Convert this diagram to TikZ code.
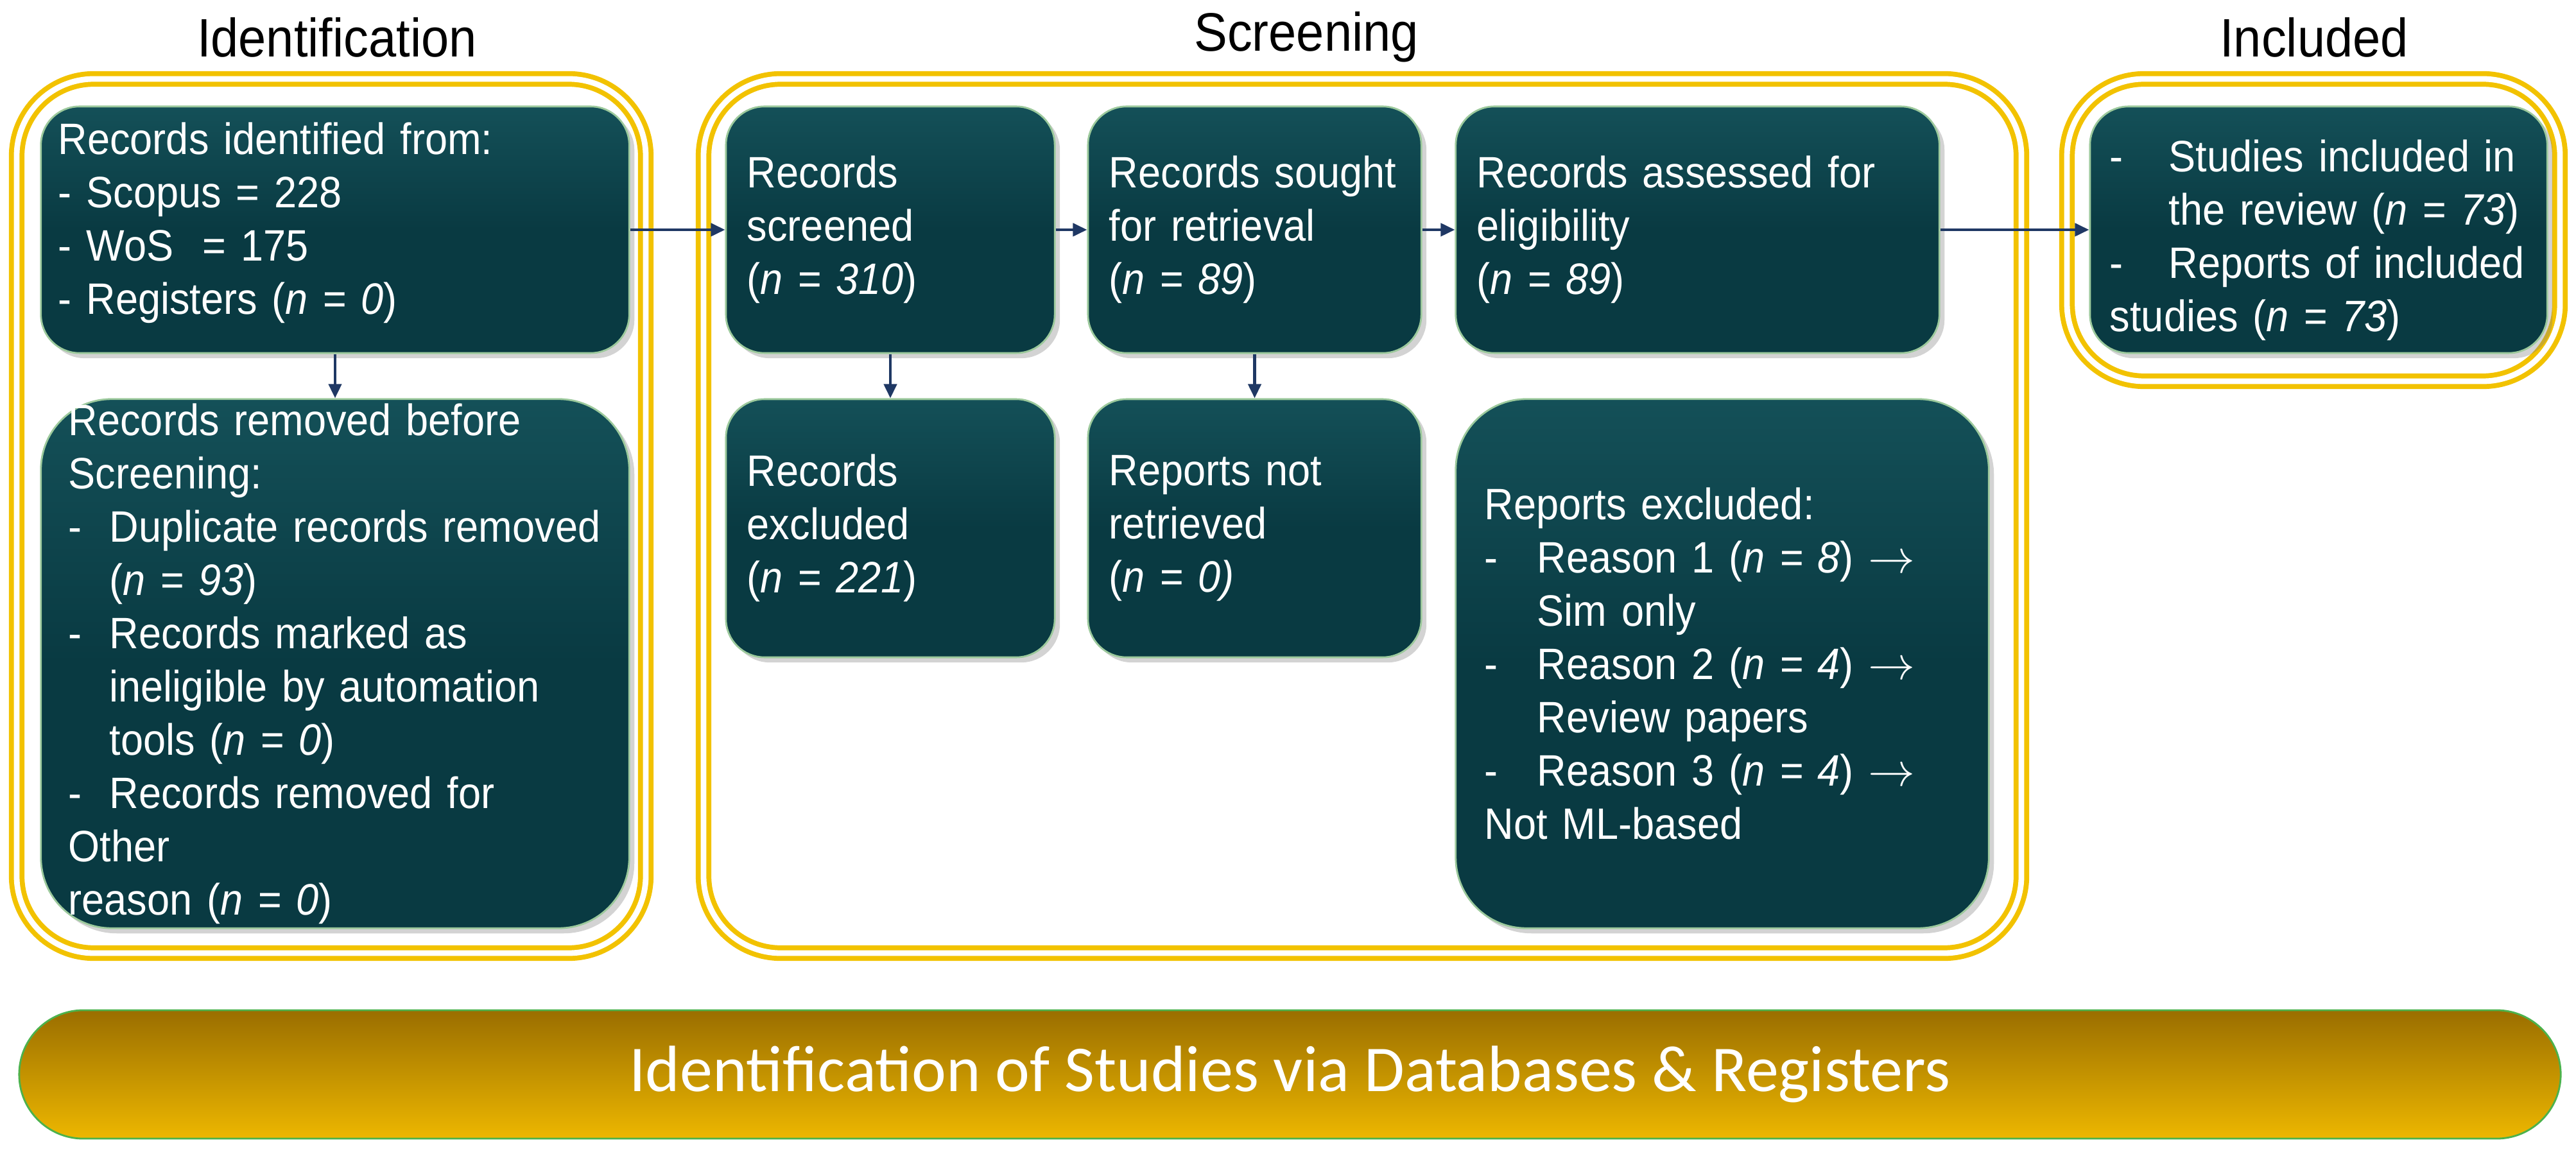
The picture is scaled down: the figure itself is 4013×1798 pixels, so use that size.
\documentclass[tikz,border=0pt]{standalone}
\usepackage{fontspec}
\setmainfont{Liberation Sans}[FakeStretch=0.92]
\newfontfamily\bannerfont{Carlito}
\usetikzlibrary{arrows.meta,shadows}
\hyphenpenalty=10000
\exhyphenpenalty=10000
\definecolor{boxc}{HTML}{093A42}
\definecolor{boxt}{HTML}{145058}
\definecolor{gold}{HTML}{F2C200}
\definecolor{navy}{HTML}{1F3864}
\definecolor{bandtop}{HTML}{9A6E00}
\definecolor{bandbot}{HTML}{EDB700}
\newcommand{\itm}[2]{\par\hangindent=#1\hangafter=1\noindent\makebox[#1][l]{-}#2}
\tikzset{
  box/.style={draw=green!30!gray!60, line width=0.8pt, top color=boxt, bottom color=boxc, middle color=boxc,
    rounded corners=0.6cm, text=white, align=left, inner sep=0pt,
    font=\fontsize{19.5}{23.6}\selectfont, drop shadow={opacity=0.35, shadow xshift=0.08cm, shadow yshift=-0.08cm}},
  frame/.style={draw=gold, double=white, double distance=2.5pt, line width=2.2pt, rounded corners=1.2cm},
  title/.style={font=\fontsize{24}{28}\selectfont, text=black},
  arr/.style={draw=navy, line width=1.2pt, -{Triangle[length=0.22cm,width=0.2cm]}}
}
\begin{document}
\begin{tikzpicture}[x=0.01cm,y=-0.01cm]
\useasboundingbox (0,0) rectangle (4013,1798);
% titles
\node[title] (t1) at (525,58) {Identification};
\node[title] (t2) at (2035,58) {Screening};
\node[title] (t3) at (3605,58) {Included};
% frames
\draw[frame] (26,123) rectangle (1006,1485);
\draw[frame] (1096,123) rectangle (3149,1485);
\draw[frame] (3220,123) rectangle (3988,594);
% boxes
\node[box, minimum width=9.16cm, minimum height=3.84cm] (b1) at (522,358) {};
\node[anchor=north west, text=white, align=left, inner sep=0pt, font=\fontsize{19.5}{23.6}\selectfont, text width=8.6cm] (b1t) at (90,190)
 {Records identified from:\\- Scopus = 228\\- WoS\ \ = 175\\- Registers (\textit{n = 0})};
\node[box, minimum width=9.16cm, minimum height=8.24cm, rounded corners=1.1cm, text width=8.3cm] (b2) at (522,1034)
 {Records removed before\\Screening:
 \itm{0.64cm}{Duplicate records removed\newline(\textit{n = 93})}
 \itm{0.64cm}{Records marked as\newline ineligible by automation\newline tools (\textit{n = 0})}
 \itm{0.64cm}{Records removed for Other\newline reason (\textit{n = 0})}};
\node[box, minimum width=5.12cm, minimum height=3.84cm, text width=4.46cm] (s1) at (1387,358)
 {Records\\screened\\(\textit{n = 310})};
\node[box, minimum width=5.19cm, minimum height=3.84cm, text width=4.53cm] (s2) at (1954.5,358)
 {Records sought\\for retrieval\\(\textit{n = 89})};
\node[box, minimum width=7.53cm, minimum height=3.84cm, text width=6.87cm] (s3) at (2644.5,358)
 {Records assessed for\\eligibility\\(\textit{n = 89})};
\node[box, minimum width=5.12cm, minimum height=4.02cm, text width=4.46cm] (e1) at (1387,823)
 {Records\\excluded\\(\textit{n = 221})};
\node[box, minimum width=5.19cm, minimum height=4.02cm, text width=4.53cm] (e2) at (1954.5,823)
 {Reports not\\retrieved\\(\textit{n = 0)}};
\node[box, minimum width=8.30cm, minimum height=8.24cm, rounded corners=1.1cm, text width=7.4cm] (e3) at (2683,1034)
 {Reports excluded:
 \itm{0.82cm}{Reason 1 (\textit{n = 8}) $\rightarrow$\newline Sim only}
 \itm{0.82cm}{Reason 2 (\textit{n = 4}) $\rightarrow$\newline Review papers}
 \itm{0.82cm}{Reason 3 (\textit{n = 4}) $\rightarrow$\newline Not ML-based}};
\node[box, minimum width=7.12cm, minimum height=3.84cm, text width=6.5cm] (i1) at (3612,358)
 {\itm{0.92cm}{Studies included in\newline the review (\textit{n = 73})}
 \itm{0.92cm}{Reports of included\newline studies (\textit{n = 73})}};
% arrows
\draw[arr] (b1) -- (s1);
\draw[arr] (s1) -- (s2);
\draw[arr] (s2) -- (s3);
\draw[arr] (s3) -- (i1);
\draw[arr] (b1) -- (b2);
\draw[arr] (s1) -- (e1);
\draw[arr] (s2) -- (e2);
% banner
\node[draw=green!40!gray, line width=0.8pt, top color=bandtop, bottom color=bandbot, rounded corners=1cm,
  minimum width=39.57cm, minimum height=2.0cm, text=white, font=\bannerfont\fontsize{29}{34}\selectfont] (band) at (2009.5,1674)
  {Identification of Studies via Databases \& Registers};
\end{tikzpicture}
\end{document}
